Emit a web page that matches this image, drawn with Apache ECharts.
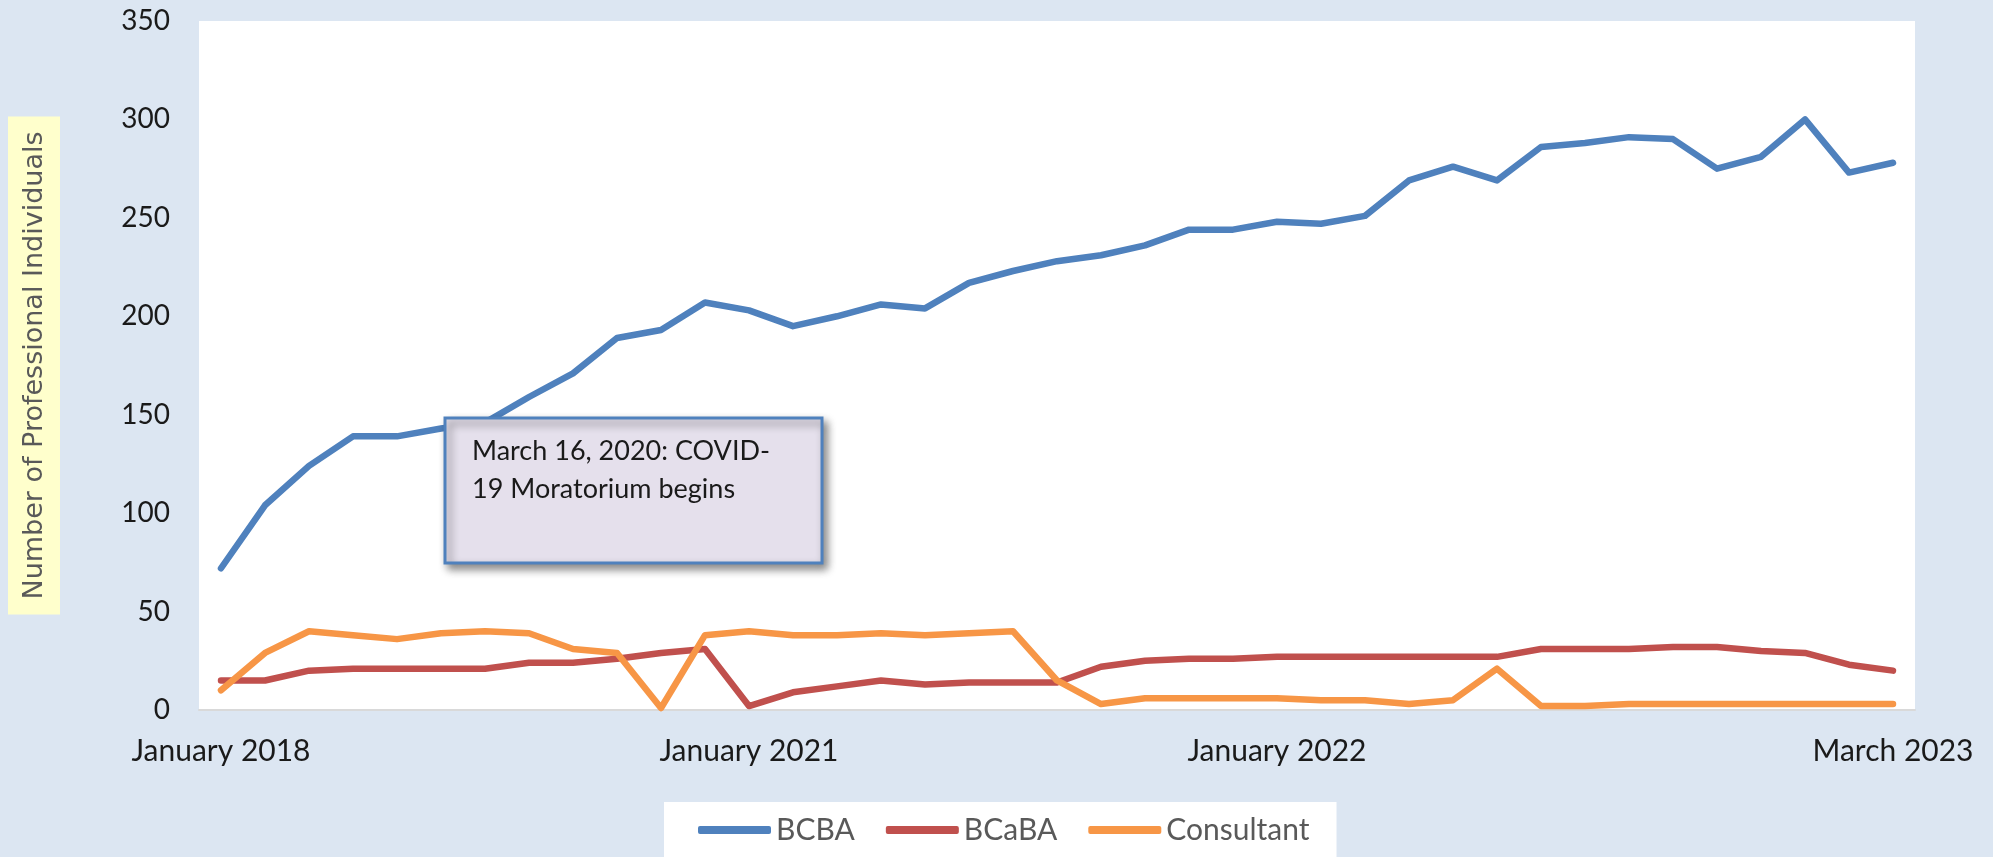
<!DOCTYPE html>
<html>
<head>
<meta charset="utf-8">
<script src="https://cdn.jsdelivr.net/npm/echarts@6/dist/echarts.min.js"></script>
<style>
html,body{margin:0;padding:0;background:#DCE6F2;}
#chart{width:1993px;height:857px;}
</style>
</head>
<body>
<div id="chart"></div>
<script>
const categories = [
  'January 2018','April 2018','July 2018','October 2018',
  'January 2019','April 2019','July 2019','October 2019',
  'January 2020','April 2020','July 2020','October 2020',
  'January 2021','February 2021','March 2021','April 2021','May 2021','June 2021',
  'July 2021','August 2021','September 2021','October 2021','November 2021','December 2021',
  'January 2022','February 2022','March 2022','April 2022','May 2022','June 2022',
  'July 2022','August 2022','September 2022','October 2022','November 2022','December 2022',
  'January 2023','February 2023','March 2023'
];
const shownLabels = ['January 2018','January 2021','January 2022','March 2023'];
const bcba = [72,104,124,139,139,143,146,159,171,189,193,207,203,195,200,206,204,217,223,228,231,236,244,244,248,247,251,269,276,269,286,288,291,290,275,281,300,273,278];
const bcaba = [15,15,20,21,21,21,21,24,24,26,29,31,2,9,12,15,13,14,14,14,22,25,26,26,27,27,27,27,27,27,31,31,31,32,32,30,29,23,20];
const consultant = [10,29,40,38,36,39,40,39,31,29,1,38,40,38,38,39,38,39,40,15,3,6,6,6,6,5,5,3,5,21,2,2,3,3,3,3,3,3,3];
const yTicks = {min:0, max:350, interval:50};
const annotationLines = ['March 16, 2020: COVID-','19 Moratorium begins'];

const chart = echarts.init(document.getElementById('chart'));
const FONT = 'Lato';
function mkSeries(name, data, color){
  return {name, type:'line', data, symbol:'none', smooth:false,
    lineStyle:{color, width:6.5, join:'round', cap:'round'}, itemStyle:{color}, z:3};
}
chart.setOption({
  backgroundColor:'#DCE6F2',
  animation:false,
  grid:{left:199, right:78, top:21, bottom:147, show:true, backgroundColor:'#ffffff', borderWidth:0},
  xAxis:{type:'category', data:categories, boundaryGap:true,
    axisLine:{show:true, lineStyle:{color:'#D9D9D9', width:2}},
    axisTick:{show:false},
    axisLabel:{interval:(i, v)=>shownLabels.includes(v), color:'#1a1a1a', fontFamily:FONT, fontSize:30, margin:26}
  },
  yAxis:{type:'value', min:yTicks.min, max:yTicks.max, interval:yTicks.interval,
    splitLine:{show:false}, axisLine:{show:false}, axisTick:{show:false},
    axisLabel:{color:'#1a1a1a', fontFamily:FONT, fontSize:28, margin:29},
    name:'Number of Professional Individuals', nameLocation:'middle', nameRotate:90, nameGap:139,
    nameTextStyle:{fontFamily:'DejaVu Sans', fontSize:27, color:'#595959', backgroundColor:'#FFFFCC', padding:[13,15,12,15]}
  },
  legend:{left:664, top:802, padding:[13,27,30,34], backgroundColor:'#ffffff', itemWidth:73, itemHeight:8, itemGap:31,
    icon:'roundRect', textStyle:{fontFamily:FONT, fontSize:30, color:'#595959'},
    data:['BCBA','BCaBA','Consultant']},
  graphic:[{
    type:'group', z:100,
    children:[
      {type:'rect', z:100, shape:{x:445, y:418, width:377, height:145},
        style:{fill:'#E5E0EC', stroke:'#4F81BD', lineWidth:3, shadowBlur:8, shadowOffsetX:4, shadowOffsetY:5, shadowColor:'rgba(0,0,0,0.45)'}},
      {type:'text', z:101, x:472, y:432,
        style:{text:annotationLines.join('\n'), font:'27px Lato', fill:'#1a1a1a', lineHeight:38}}
    ]
  }],
  series:[
    mkSeries('BCBA', bcba, '#4F81BD'),
    mkSeries('BCaBA', bcaba, '#C0504D'),
    mkSeries('Consultant', consultant, '#F79646')
  ]
});
</script>
</body>
</html>
